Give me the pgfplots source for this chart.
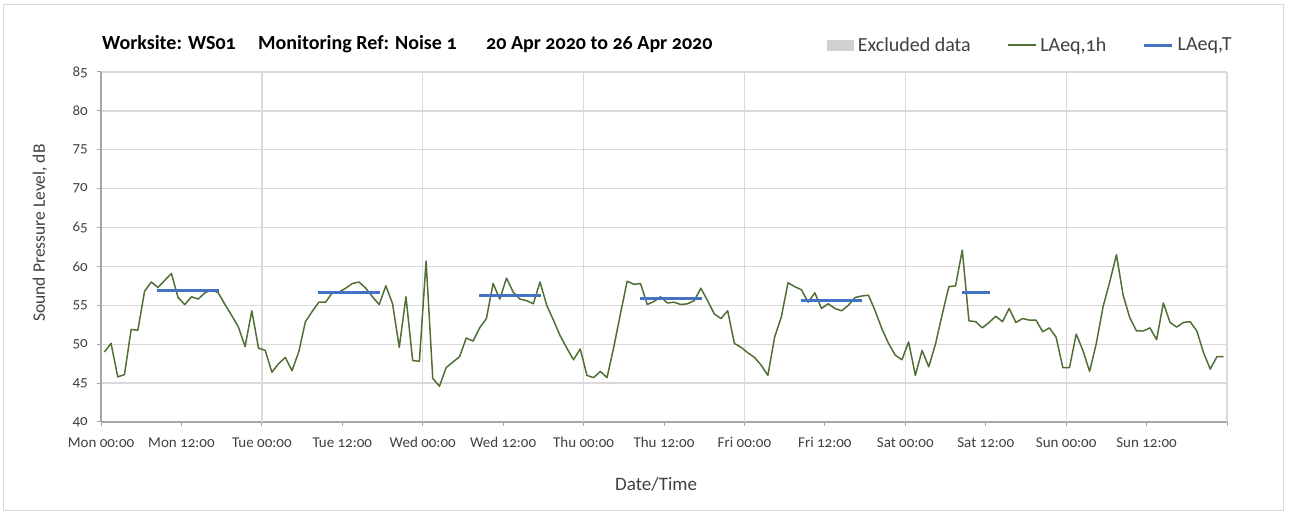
\documentclass[border=0pt]{standalone}
\usepackage{fontspec}
\setmainfont{Carlito}[Numbers=OldStyle]
\usepackage{pgfplots}
\usepackage{pgfplotstable}
\pgfplotsset{compat=1.18}
\definecolor{lgreen}{HTML}{4F6F34}
\definecolor{lblue}{HTML}{4472C4}
\definecolor{gridc}{HTML}{D9D9D9}
\definecolor{axc}{HTML}{A6A6A6}
\definecolor{txt}{HTML}{404040}
\definecolor{excl}{HTML}{D0D0D0}

\pgfplotstableread{
h v
0.5 49.0
1.5 50.1
2.5 45.8
3.5 46.1
4.5 51.9
5.5 51.8
6.5 56.8
7.5 58.0
8.5 57.3
9.5 58.2
10.5 59.1
11.5 56.0
12.5 55.1
13.5 56.1
14.5 55.8
15.5 56.6
16.5 57.0
17.5 56.6
18.5 55.1
19.5 53.7
20.5 52.2
21.5 49.7
22.5 54.3
23.5 49.5
24.5 49.2
25.5 46.4
26.5 47.5
27.5 48.3
28.5 46.6
29.5 49.0
30.5 52.9
31.5 54.2
32.5 55.4
33.5 55.4
34.5 56.6
35.5 56.7
36.5 57.2
37.5 57.8
38.5 58.0
39.5 57.2
40.5 56.1
41.5 55.1
42.5 57.5
43.5 55.2
44.5 49.6
45.5 56.1
46.5 47.9
47.5 47.8
48.5 60.7
49.5 45.6
50.5 44.6
51.5 47.0
52.5 47.7
53.5 48.4
54.5 50.8
55.5 50.4
56.5 52.1
57.5 53.3
58.5 57.8
59.5 55.8
60.5 58.5
61.5 56.7
62.5 55.8
63.5 55.6
64.5 55.2
65.5 58.0
66.5 55.0
67.5 53.1
68.5 51.1
69.5 49.5
70.5 48.0
71.5 49.4
72.5 46.0
73.5 45.7
74.5 46.5
75.5 45.7
76.5 49.6
77.5 53.9
78.5 58.1
79.5 57.7
80.5 57.8
81.5 55.1
82.5 55.5
83.5 56.1
84.5 55.3
85.5 55.4
86.5 55.1
87.5 55.2
88.5 55.6
89.5 57.2
90.5 55.6
91.5 53.9
92.5 53.3
93.5 54.3
94.5 50.1
95.5 49.6
96.5 48.9
97.5 48.3
98.5 47.3
99.5 46.0
100.5 50.9
101.5 53.5
102.5 57.9
103.5 57.4
104.5 57.0
105.5 55.4
106.5 56.6
107.5 54.6
108.5 55.2
109.5 54.6
110.5 54.3
111.5 55.0
112.5 56.0
113.5 56.2
114.5 56.3
115.5 54.3
116.5 52.0
117.5 50.1
118.5 48.6
119.5 48.0
120.5 50.3
121.5 46.0
122.5 49.2
123.5 47.1
124.5 50.0
125.5 53.8
126.5 57.4
127.5 57.5
128.5 62.1
129.5 53.0
130.5 52.9
131.5 52.1
132.5 52.8
133.5 53.6
134.5 52.9
135.5 54.6
136.5 52.8
137.5 53.3
138.5 53.1
139.5 53.1
140.5 51.6
141.5 52.1
142.5 50.9
143.5 47.0
144.5 47.0
145.5 51.3
146.5 49.2
147.5 46.5
148.5 50.1
149.5 54.8
150.5 58.0
151.5 61.5
152.5 56.3
153.5 53.4
154.5 51.7
155.5 51.7
156.5 52.1
157.5 50.6
158.5 55.3
159.5 52.8
160.5 52.2
161.5 52.8
162.5 52.9
163.5 51.7
164.5 48.9
165.5 46.8
166.5 48.4
167.5 48.4
}\laeqdata

\begin{document}
\begin{tikzpicture}[x=1pt,y=1pt]
\path[use as bounding box] (0,0) rectangle (1291,518);
\draw[gridc, line width=1pt] (3.5,7.5) rectangle (1283,513);
\begin{axis}[
  at={(101pt,96pt)}, anchor=south west, scale only axis,
  width=1126pt, height=350pt,
  xmin=0, xmax=168, ymin=40, ymax=85,
  xtick={0,12,...,168},
  xticklabels={Mon 00:00, Mon 12:00, Tue 00:00, Tue 12:00, Wed 00:00, Wed 12:00, Thu 00:00, Thu 12:00, Fri 00:00, Fri 12:00, Sat 00:00, Sat 12:00, Sun 00:00, Sun 12:00, {}},
  ytick={40,45,...,85},
  /pgf/number format/assume math mode=true,
  tick align=outside,
  major tick length=4pt,
  tick style={axc, line width=1pt},
  ymajorgrids,
  grid style={gridc, line width=1.3pt},
  extra x ticks={24,48,...,168},
  extra x tick labels={},
  extra x tick style={grid=major, major tick length=0pt},
  axis x line*=bottom, axis y line*=left,
  axis line style={axc, line width=1.3pt},
  xticklabel style={font=\fontsize{15}{18}\selectfont, text=txt, inner sep=0pt, text height=10pt, text depth=3pt, yshift=-11pt},
  yticklabel style={font=\fontsize{15}{18}\selectfont, text=txt, inner sep=0pt, xshift=-9pt},
  xlabel={Date/Time},
  xlabel style={font=\fontsize{19}{22}\selectfont, text=txt, at={(0.493,-0.177)}, anchor=center},
  ylabel={Sound Pressure Level, dB},
  ylabel style={font=\fontsize{17.5}{21}\selectfont, text=txt, at={(-0.0542,0.54)}, anchor=center, rotate=0},
  legend style={at={(0.6445,1.0771)}, anchor=west, draw=none, fill=none, inner sep=0pt, outer sep=0pt,
    font=\fontsize{20}{24}\selectfont, text=txt,
    nodes={inner sep=0pt},
    /tikz/every odd column/.append style={column sep=4pt},
    /tikz/every even column/.append style={column sep=36pt}},
  legend columns=-1,
]
\addlegendimage{legend image code/.code={\fill[excl] (0pt,-5.3pt) rectangle (26.7pt,5.3pt);}}
\addlegendentry{Excluded data}
\addplot[lgreen, line width=1.5pt, line join=round,
  legend image code/.code={\draw[lgreen, line width=1.5pt] (0pt,0pt) -- (28pt,0pt);}]
  table[x=h, y=v]{\laeqdata};
\addlegendentry{LAeq,1h}
\addplot[lblue, line width=3pt,
  legend image code/.code={\draw[lblue, line width=3pt] (0pt,0pt) -- (28.3pt,0pt);}]
  coordinates {(8.4,56.9) (17.6,56.9)};
\addlegendentry{LAeq,T}
\addplot[lblue, line width=3pt, forget plot] coordinates {(32.4,56.6) (41.6,56.6)};
\addplot[lblue, line width=3pt, forget plot] coordinates {(56.4,56.3) (65.6,56.3)};
\addplot[lblue, line width=3pt, forget plot] coordinates {(80.4,55.9) (89.6,55.9)};
\addplot[lblue, line width=3pt, forget plot] coordinates {(104.4,55.6) (113.6,55.6)};
\addplot[lblue, line width=3pt, forget plot] coordinates {(128.4,56.7) (132.6,56.7)};
\end{axis}
\begin{scope}[every node/.style={anchor=base west, inner sep=0pt, font=\bfseries\fontsize{20}{24}\selectfont}]
\node at (102,468) {Worksite: WS01};
\node at (258,468) {Monitoring Ref: Noise 1};
\node at (486,468) {20 Apr 2020 to 26 Apr 2020};
\end{scope}
\end{tikzpicture}
\end{document}
